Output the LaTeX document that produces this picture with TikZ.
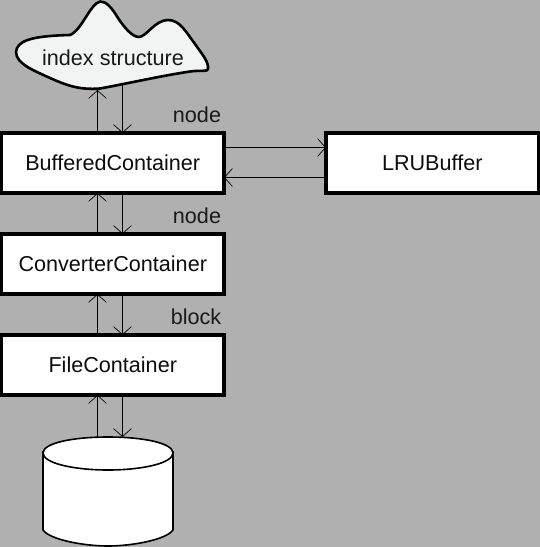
\documentclass[tikz,border=0pt]{standalone}
\usepackage{fontspec}
\setmainfont{Liberation Sans}
\usetikzlibrary{arrows.meta}
\definecolor{bgc}{HTML}{B0B0B0}
\definecolor{cloudc}{HTML}{F2F4F4}
\tikzset{
  cbox/.style={draw=black,fill=white,line width=3.6pt,outer sep=0pt,inner sep=0pt,anchor=north west,font=\fontsize{21.6}{26}\selectfont,text=black!95},
  lbl/.style={font=\fontsize{21.6}{26}\selectfont,text=black!90,inner sep=0pt},
  link/.style={draw=black,line width=1pt,-{Straight Barb[length=8pt,width=18pt,line width=0.7pt]}},
  cyl/.style={draw=black,fill=white,line width=1.6pt}
}
\begin{document}
\begin{tikzpicture}[x=1pt,y=-1pt]
\useasboundingbox[fill=bgc] (0,0) rectangle (540,547);
% boxes
\node[cbox,minimum width=222.5pt,minimum height=60pt] (buf) at (1.5,133) {BufferedContainer};
\node[cbox,minimum width=222.5pt,minimum height=60pt] (conv) at (1.5,234) {ConverterContainer};
\node[cbox,minimum width=222.5pt,minimum height=60pt] (file) at (1.5,335) {FileContainer};
\node[cbox,minimum width=212.5pt,minimum height=60pt] (lru) at (326,133) {LRUBuffer};
% cloud
\path[draw=black,fill=cloudc,line width=2.6pt,line join=round]
  (100,1.5) .. controls (106,1) and (112,8) .. (118,18)
  .. controls (124,27) and (132,37) .. (139,37)
  .. controls (146,37) and (155,20) .. (168,20)
  .. controls (180,20) and (186,32) .. (195,44)
  .. controls (202,54) and (209,62) .. (208,69)
  .. controls (208,72) and (200,70) .. (190,71.5)
  .. controls (160,76) and (125,84) .. (100,88.5)
  .. controls (80,90) and (68,86) .. (50,78)
  .. controls (35,71) and (16,64) .. (16,52)
  .. controls (17,41) and (30,36) .. (70,35)
  .. controls (82,30) and (90,4) .. (100,1.5) -- cycle;
\node[lbl] (cloudtext) at (113,58) {index structure};
\coordinate (cloudA) at (97.5,90);
\coordinate (cloudB) at (122.5,85);
% cylinder
\path[cyl] (43,452) -- (43,530) .. controls (50,540) and (85,546) .. (108,546)
  .. controls (131,546) and (166,540) .. (173,530) -- (173,452) -- cycle;
\path[cyl] (108,437) .. controls (143,437) and (173,443) .. (173,453)
  .. controls (173,463) and (143,470) .. (108,470)
  .. controls (73,470) and (43,463) .. (43,453)
  .. controls (43,443) and (73,437) .. (108,437) -- cycle;
\coordinate (cylA) at (97.5,437);
\coordinate (cylB) at (122.5,437);
% connectors
\draw[link] (cloudA |- buf.north) -- (cloudA);
\draw[link] (cloudB) -- (cloudB |- buf.north);
\draw[link] (cloudA |- conv.north) -- (cloudA |- buf.south);
\draw[link] (cloudB |- buf.south) -- (cloudB |- conv.north);
\draw[link] (cloudA |- file.north) -- (cloudA |- conv.south);
\draw[link] (cloudB |- conv.south) -- (cloudB |- file.north);
\draw[link] (cylA) -- (cylA |- file.south);
\draw[link] (cylB |- file.south) -- (cylB);
\coordinate (hA) at (224,147.5);
\coordinate (hB) at (224,177.5);
\draw[link] (hA) -- (hA -| lru.west);
\draw[link] (hB -| lru.west) -- (hB);
% labels
\node[lbl,anchor=base] (l1) at (197,122) {node};
\node[lbl,anchor=base] (l2) at (197,223) {node};
\node[lbl,anchor=base] (l3) at (196,324) {block};
\end{tikzpicture}
\end{document}
